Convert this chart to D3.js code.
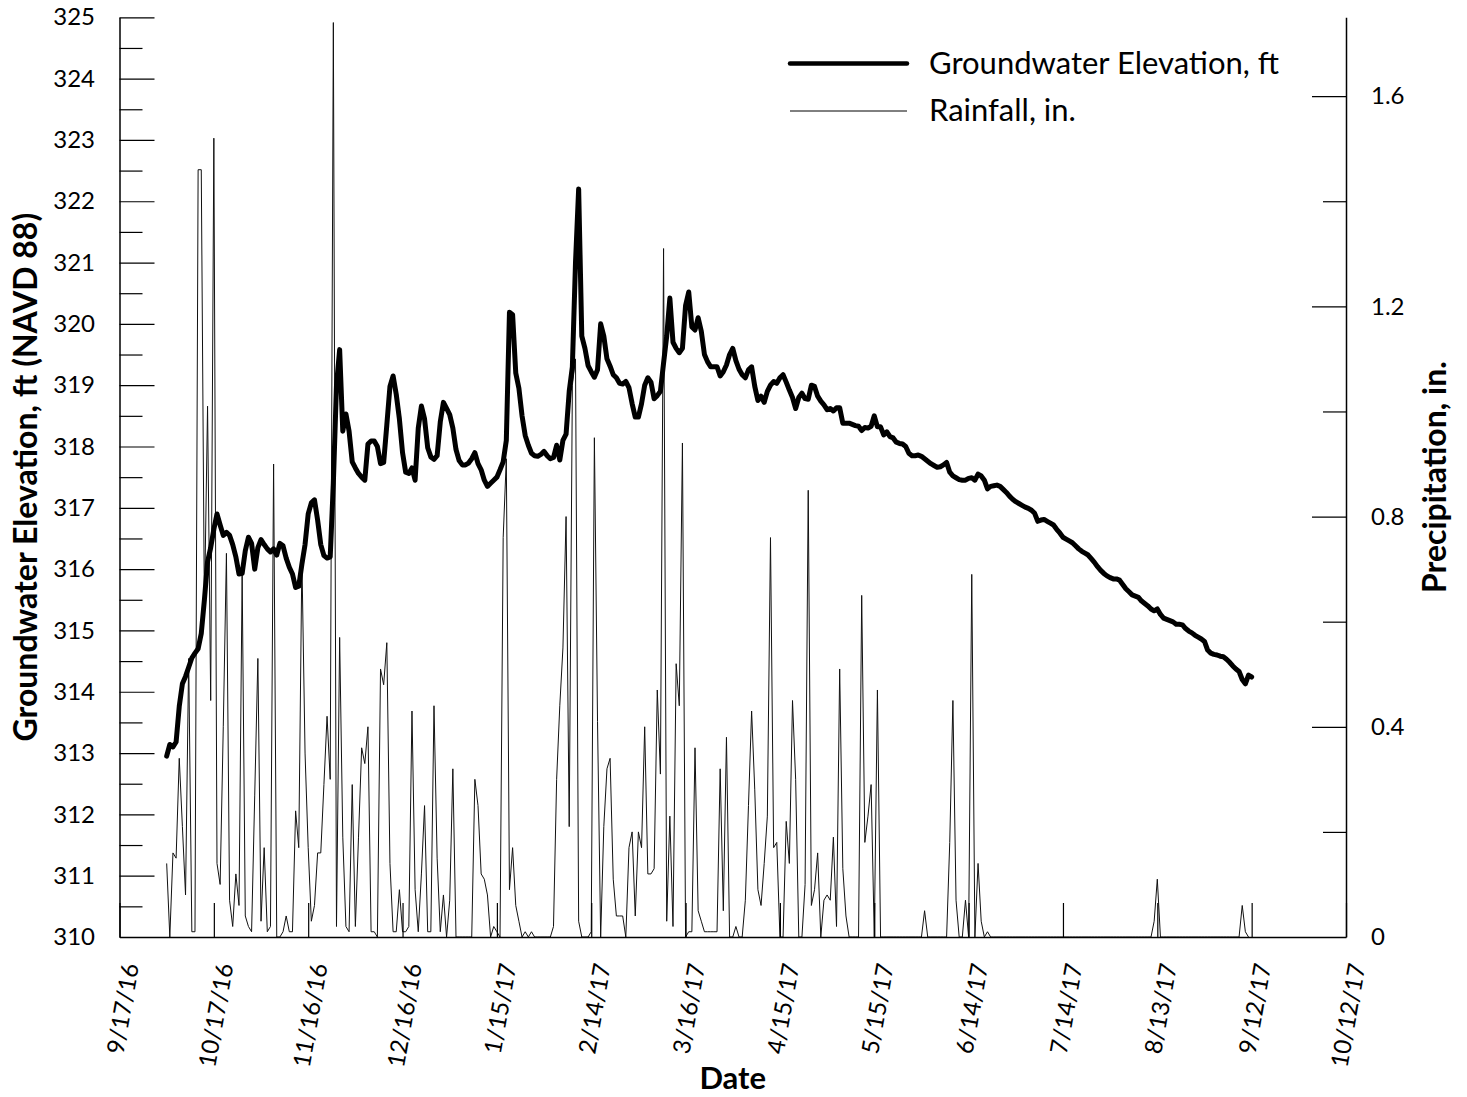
<!DOCTYPE html>
<html>
<head>
<meta charset="utf-8">
<script src="https://cdn.jsdelivr.net/npm/d3@7"></script>
<style>
  body { margin: 0; background: #fff; }
  svg text { font-family: Lato, "Open Sans", sans-serif; fill: #000; }
</style>
</head>
<body>
<svg id="chart" width="1467" height="1097"></svg>
<script>
// ---- data ----------------------------------------------------------------
const dateTickLabels = ["9/17/16", "10/17/16", "11/16/16", "12/16/16", "1/15/17", "2/14/17",
  "3/16/17", "4/15/17", "5/15/17", "6/14/17", "7/14/17", "8/13/17", "9/12/17", "10/12/17"];
const elevationTicks = [310, 311, 312, 313, 314, 315, 316, 317, 318, 319, 320, 321, 322, 323, 324, 325];
const precipTicks = [0, 0.4, 0.8, 1.2, 1.6];

// daily records, first day of record
const seriesStart = "2016-10-02";

// groundwater elevation, ft (NAVD 88), one value per day
const groundwater = [
  312.95, 313.14, 313.10, 313.18, 313.76, 314.13, 314.25, 314.40, 314.55, 314.63,
  314.70, 314.95, 315.50, 316.12, 316.35, 316.65, 316.90, 316.72, 316.55, 316.60,
  316.55, 316.40, 316.20, 315.92, 315.93, 316.30, 316.52, 316.42, 316.00, 316.35,
  316.48, 316.40, 316.33, 316.28, 316.33, 316.23, 316.42, 316.38, 316.18, 316.03,
  315.92, 315.70, 315.72, 316.08, 316.40, 316.90, 317.08, 317.13, 316.80, 316.40,
  316.22, 316.18, 316.20, 317.40, 319.00, 319.58, 318.25, 318.53, 318.25, 317.75,
  317.65, 317.56, 317.50, 317.45, 318.04, 318.09, 318.09, 318.00, 317.72, 317.74,
  318.35, 318.98, 319.15, 318.85, 318.45, 317.90, 317.58, 317.56, 317.65, 317.45,
  318.30, 318.66, 318.45, 317.98, 317.83, 317.79, 317.85, 318.40, 318.72, 318.62,
  318.52, 318.30, 317.95, 317.77, 317.70, 317.70, 317.73, 317.80, 317.90, 317.72,
  317.62, 317.45, 317.35, 317.40, 317.45, 317.50, 317.62, 317.75, 318.10, 320.19,
  320.15, 319.20, 318.95, 318.50, 318.18, 318.02, 317.89, 317.85, 317.84, 317.87,
  317.92, 317.85, 317.80, 317.82, 318.02, 317.78, 318.10, 318.20, 318.90, 319.30,
  321.00, 322.20, 319.80, 319.60, 319.32, 319.22, 319.13, 319.25, 320.00, 319.80,
  319.43, 319.31, 319.17, 319.12, 319.03, 319.02, 319.06, 318.96, 318.70, 318.48,
  318.48, 318.70, 319.00, 319.12, 319.05, 318.78, 318.83, 318.90, 319.36, 319.80,
  320.42, 319.70, 319.60, 319.53, 319.60, 320.30, 320.52, 319.95, 319.90, 320.10,
  319.88, 319.50, 319.38, 319.30, 319.30, 319.30, 319.15, 319.22, 319.33, 319.50,
  319.60, 319.40, 319.26, 319.17, 319.12, 319.25, 319.30, 318.98, 318.75, 318.82,
  318.72, 318.90, 319.00, 319.06, 319.03, 319.12, 319.17, 319.05, 318.92, 318.80,
  318.62, 318.80, 318.87, 318.78, 318.77, 319.00, 318.98, 318.82, 318.74, 318.68,
  318.60, 318.62, 318.58, 318.63, 318.63, 318.38, 318.38, 318.38, 318.36, 318.34,
  318.33, 318.26, 318.31, 318.30, 318.33, 318.50, 318.32, 318.32, 318.19, 318.24,
  318.16, 318.14, 318.07, 318.05, 318.04, 318.00, 317.89, 317.85, 317.85, 317.86,
  317.84, 317.80, 317.76, 317.72, 317.69, 317.66, 317.67, 317.70, 317.74, 317.58,
  317.52, 317.49, 317.46, 317.45, 317.45, 317.48, 317.49, 317.45, 317.55, 317.52,
  317.45, 317.31, 317.35, 317.36, 317.37, 317.35, 317.30, 317.25, 317.19, 317.14,
  317.10, 317.07, 317.04, 317.01, 316.99, 316.96, 316.91, 316.78, 316.80, 316.81,
  316.78, 316.75, 316.72, 316.65, 316.59, 316.52, 316.49, 316.46, 316.43, 316.38,
  316.33, 316.29, 316.26, 316.23, 316.17, 316.11, 316.04, 315.98, 315.93, 315.89,
  315.86, 315.84, 315.84, 315.82, 315.75, 315.68, 315.63, 315.58, 315.56, 315.54,
  315.48, 315.44, 315.40, 315.35, 315.32, 315.35, 315.26, 315.20, 315.18, 315.16,
  315.14, 315.10, 315.10, 315.09, 315.03, 314.99, 314.96, 314.92, 314.89, 314.86,
  314.82, 314.68, 314.63, 314.61, 314.60, 314.58, 314.57, 314.53, 314.48, 314.42,
  314.37, 314.33, 314.20, 314.13, 314.27, 314.24
];

// daily rainfall, in.
const rainfall = [
  0.14, 0, 0.16, 0.15, 0.34, 0.21, 0.08, 0.53, 0.01, 0.01,
  1.46, 1.46, 0.62, 1.01, 0.45, 1.52, 0.14, 0.10, 0.40, 0.73,
  0.07, 0.02, 0.12, 0.06, 0.69, 0.04, 0.02, 0.01, 0.27, 0.53,
  0.03, 0.17, 0.01, 0.02, 0.90, 0, 0, 0.01, 0.04, 0.01,
  0.01, 0.24, 0.17, 0.72, 0.35, 0.17, 0.03, 0.06, 0.16, 0.16,
  0.29, 0.42, 0.30, 1.74, 0.02, 0.57, 0.19, 0.02, 0.01, 0.29,
  0.02, 0.19, 0.36, 0.33, 0.40, 0.01, 0.01, 0, 0.51, 0.48,
  0.56, 0.14, 0.01, 0.01, 0.09, 0.01, 0.01, 0.02, 0.43, 0.09,
  0.01, 0.12, 0.25, 0.01, 0.01, 0.44, 0.15, 0.01, 0.08, 0,
  0.07, 0.32, 0, 0, 0, 0, 0, 0, 0.30, 0.25,
  0.12, 0.11, 0.08, 0, 0.02, 0.01, 0, 0.76, 0.91, 0.09,
  0.17, 0.06, 0.03, 0, 0.01, 0, 0.01, 0, 0, 0,
  0, 0, 0, 0.02, 0.30, 0.44, 0.55, 0.80, 0.21, 1.05,
  1.10, 0.03, 0, 0, 0, 0.01, 0.95, 0.41, 0, 0.21,
  0.32, 0.34, 0.11, 0.04, 0.04, 0.04, 0, 0.17, 0.20, 0.04,
  0.20, 0.17, 0.40, 0.12, 0.12, 0.13, 0.47, 0.31, 1.31, 0.03,
  0.23, 0.02, 0.52, 0.44, 0.94, 0, 0.01, 0.01, 0.36, 0.05,
  0.03, 0.01, 0.01, 0.01, 0.01, 0.01, 0.32, 0.05, 0.38, 0,
  0, 0.02, 0, 0, 0.07, 0.25, 0.43, 0.28, 0.09, 0.06,
  0.14, 0.23, 0.76, 0.17, 0.18, 0, 0, 0.22, 0.14, 0.45,
  0.30, 0, 0, 0.10, 0.85, 0.06, 0.09, 0.16, 0, 0.07,
  0.08, 0.07, 0.19, 0.02, 0.51, 0.13, 0.04, 0, 0, 0,
  0, 0.65, 0.18, 0.23, 0.29, 0, 0.47, 0, 0, 0,
  0, 0, 0, 0, 0, 0, 0, 0, 0, 0,
  0, 0.05, 0, 0, 0, 0, 0, 0, 0, 0.18,
  0.45, 0.07, 0, 0, 0.07, 0, 0.69, 0, 0.14, 0.03,
  0, 0.01, 0, 0, 0, 0, 0, 0, 0, 0,
  0, 0, 0, 0, 0, 0, 0, 0, 0, 0,
  0, 0, 0, 0, 0, 0, 0, 0, 0, 0,
  0, 0, 0, 0, 0, 0, 0, 0, 0, 0,
  0, 0, 0, 0, 0, 0, 0, 0, 0, 0,
  0, 0, 0, 0, 0.03, 0.11, 0, 0, 0, 0,
  0, 0, 0, 0, 0, 0, 0, 0, 0, 0,
  0, 0, 0, 0, 0, 0, 0, 0, 0, 0,
  0, 0, 0.06, 0.01, 0
];

// ---- layout ----------------------------------------------------------------
const plot = { left: 119.5, right: 1346, top: 17.3, bottom: 937 };
const svg = d3.select("#chart");

const parseTick = d3.utcParse("%m/%d/%y");
const tickDates = dateTickLabels.map(parseTick);
const start = d3.utcParse("%Y-%m-%d")(seriesStart);
const dayOf = i => d3.utcDay.offset(start, i);

const x = d3.scaleUtc()
  .domain([tickDates[0], tickDates[tickDates.length - 1]])
  .range([plot.left, plot.right]);
const yElev = d3.scaleLinear().domain([310, 325]).range([plot.bottom, plot.top]);
const yRain = d3.scaleLinear().domain([0, 1.75]).range([plot.bottom, plot.top]);

// ---- series ----------------------------------------------------------------
const rainLine = d3.line().x((d, i) => x(dayOf(i))).y(d => yRain(d));
svg.append("path")
  .datum(rainfall)
  .attr("d", rainLine)
  .attr("fill", "none")
  .attr("stroke", "#111")
  .attr("stroke-width", 1)
  .attr("stroke-linejoin", "miter");

const gwLine = d3.line().x((d, i) => x(dayOf(i))).y(d => yElev(d));
svg.append("path")
  .datum(groundwater)
  .attr("d", gwLine)
  .attr("fill", "none")
  .attr("stroke", "#000")
  .attr("stroke-width", 5)
  .attr("stroke-linejoin", "round")
  .attr("stroke-linecap", "round");

// ---- axes ------------------------------------------------------------------
function styleAxis(g, size) {
  g.select(".domain").attr("stroke", "#000").attr("stroke-width", 1.5);
  g.selectAll(".tick line").attr("stroke", "#000").attr("stroke-width", 1.2);
  g.selectAll(".tick text").style("font-size", size + "px").style("font-family", "Lato, sans-serif");
}

// bottom (dates), ticks pointing inward
const xAxis = svg.append("g")
  .attr("transform", `translate(0,${plot.bottom})`)
  .call(d3.axisBottom(x)
    .tickValues(tickDates)
    .tickSizeInner(-34)
    .tickSizeOuter(0)
    .tickFormat((d, i) => dateTickLabels[i]));
styleAxis(xAxis, 24);
xAxis.selectAll(".tick text")
  .attr("x", 0).attr("y", 0).attr("dy", 0)
  .attr("transform", "translate(19,28) rotate(-80)")
  .style("text-anchor", "end");

// left (elevation): major and half-foot minor ticks
const yLeft = svg.append("g")
  .attr("transform", `translate(${plot.left},0)`)
  .call(d3.axisLeft(yElev)
    .tickValues(elevationTicks)
    .tickSizeInner(-35)
    .tickSizeOuter(0)
    .tickPadding(24.5)
    .tickFormat(d3.format("d")));
styleAxis(yLeft, 24);
const yLeftMinor = svg.append("g")
  .attr("transform", `translate(${plot.left},0)`)
  .call(d3.axisLeft(yElev)
    .tickValues(elevationTicks.slice(0, -1).map(v => v + 0.5))
    .tickSizeInner(-23)
    .tickSizeOuter(0)
    .tickFormat(""));
styleAxis(yLeftMinor, 24);
yLeftMinor.select(".domain").remove();

// right (precipitation): major and minor ticks
const yRight = svg.append("g")
  .attr("transform", `translate(${plot.right},0)`)
  .call(d3.axisRight(yRain)
    .tickValues(precipTicks)
    .tickSizeInner(-34)
    .tickSizeOuter(0)
    .tickPadding(25)
    .tickFormat(d => d === 0 ? "0" : d3.format(".1f")(d)));
styleAxis(yRight, 24);
const yRightMinor = svg.append("g")
  .attr("transform", `translate(${plot.right},0)`)
  .call(d3.axisRight(yRain)
    .tickValues(precipTicks.slice(0, -1).map(v => v + 0.2))
    .tickSizeInner(-23)
    .tickSizeOuter(0)
    .tickFormat(""));
styleAxis(yRightMinor, 24);
yRightMinor.select(".domain").remove();

// ---- titles ----------------------------------------------------------------
svg.append("text")
  .attr("transform", `translate(37,${(plot.top + plot.bottom) / 2}) rotate(-90)`)
  .attr("text-anchor", "middle")
  .style("font-size", "32px").style("font-weight", "bold")
  .text("Groundwater Elevation, ft (NAVD 88)");

svg.append("text")
  .attr("transform", `translate(1446,${(plot.top + plot.bottom) / 2}) rotate(-90)`)
  .attr("text-anchor", "middle")
  .style("font-size", "32px").style("font-weight", "bold")
  .text("Precipitation, in.");

svg.append("text")
  .attr("x", (plot.left + plot.right) / 2)
  .attr("y", 1089)
  .attr("text-anchor", "middle")
  .style("font-size", "31px").style("font-weight", "bold")
  .text("Date");

// ---- legend ----------------------------------------------------------------
const legend = svg.append("g");
const legendItems = [
  { label: "Groundwater Elevation, ft", width: 4.5, y: 63.5 },
  { label: "Rainfall, in.", width: 1, y: 111 }
];
legendItems.forEach(item => {
  legend.append("line")
    .attr("x1", 790).attr("x2", 907)
    .attr("y1", item.y).attr("y2", item.y)
    .attr("stroke", "#000").attr("stroke-width", item.width)
    .attr("stroke-linecap", item.width > 2 ? "round" : "butt");
  legend.append("text")
    .attr("x", 929).attr("y", item.y + 10)
    .style("font-size", "31px")
    .text(item.label);
});
</script>
</body>
</html>
